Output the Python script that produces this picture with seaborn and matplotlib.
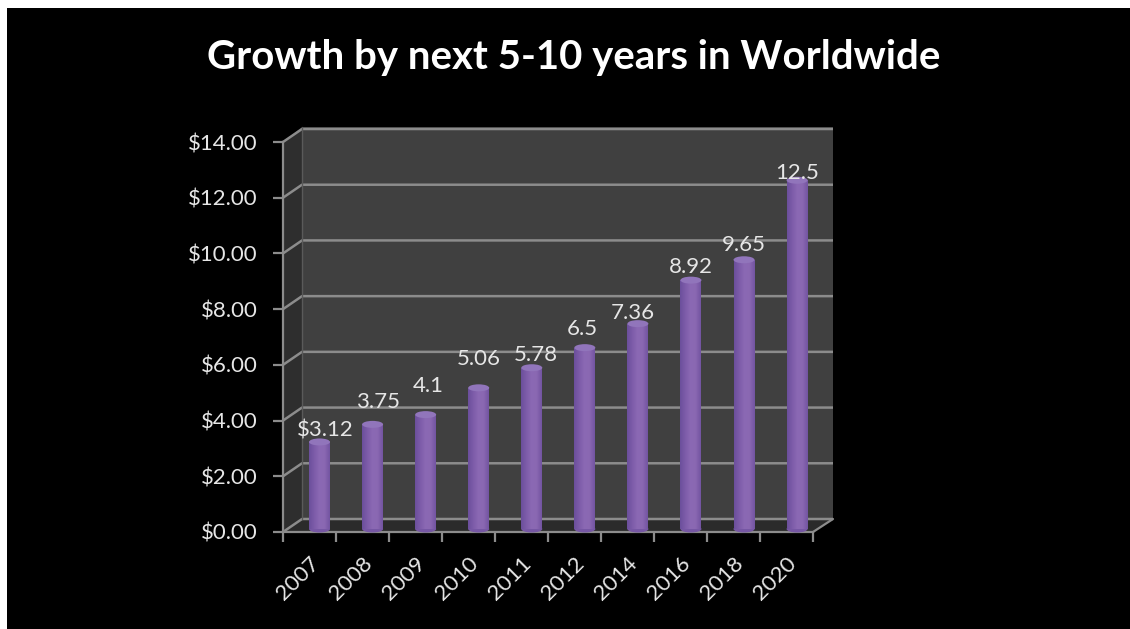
import numpy as np
import pandas as pd
import matplotlib
matplotlib.use("Agg")
import matplotlib.pyplot as plt
from matplotlib.colors import LinearSegmentedColormap
from matplotlib.patches import Ellipse, Polygon, Rectangle
import seaborn as sns

years = ["2007", "2008", "2009", "2010", "2011", "2012", "2014", "2016", "2018", "2020"]
values = [3.12, 3.75, 4.1, 5.06, 5.78, 6.5, 7.36, 8.92, 9.65, 12.5]
value_labels = ["$3.12", "3.75", "4.1", "5.06", "5.78", "6.5", "7.36", "8.92", "9.65", "12.5"]
y_ticks = [0, 2, 4, 6, 8, 10, 12, 14]
y_tick_labels = ["$0.00", "$2.00", "$4.00", "$6.00", "$8.00", "$10.00", "$12.00", "$14.00"]
title = "Growth by next 5-10 years in Worldwide"

# Hand-placed label nudges from each bar top, in pixels
label_dx = [6, 5, 3, 0, 4, -3, -5, 0, 0, 0]
label_dy = [11, 22, 29, 29, 13, 19, 11, 13, 15, 7]

W, H = 1130, 629
GRID = "#8c8c8c"
TEXT = "#e6e6e6"

sns.set_theme(style="dark")
plt.rcParams["font.family"] = ["Lato", "DejaVu Sans"]


def px_axes(fig, left, right, top, bottom, **kw):
    """Axes placed by its pixel edges, measured from the top-left corner."""
    return fig.add_axes([left / W, 1 - bottom / H, (right - left) / W, (bottom - top) / H], **kw)


fig = plt.figure(figsize=(W / 100, H / 100), dpi=100, facecolor="white")

# Full-canvas layer in pixel units for the slide and the 3-D chart box
bg = px_axes(fig, 0, W, 0, H, zorder=0)
bg.set_xlim(0, W)
bg.set_ylim(H, 0)
bg.axis("off")
bg.add_patch(Rectangle((7, 8), W - 7, H - 8, fc="black", ec="none"))

x0, x1 = 283, 813          # front edge of the floor
bx0, bx1 = 302, 833        # back wall
y_front, y_back = 532, 519
y_top_front, y_top_back = 142, 127
bg.add_patch(Polygon([(bx0, y_top_back), (bx1, y_top_back), (bx1, y_back), (bx0, y_back)],
                     fc="#404040", ec="none"))
bg.add_patch(Polygon([(x0, y_top_front), (bx0, y_top_back), (bx0, y_back), (x0, y_front)],
                     fc="#2e2e2e", ec="none"))
bg.add_patch(Polygon([(x0, y_front), (x1, y_front), (bx1, y_back), (bx0, y_back)],
                     fc="#2b2b2b", ec="none"))

# Frame layer: value axis and year axis along the front edge
frame = px_axes(fig, x0, x1, y_top_front, y_front, zorder=1)
frame.patch.set_alpha(0)
frame.set_xlim(-0.5, len(years) - 0.5)
frame.set_ylim(0, 14)
frame.set_yticks(y_ticks, y_tick_labels)
frame.set_xticks(range(len(years)), years, rotation=45, ha="right", rotation_mode="anchor")
frame.set_xticks(np.arange(-0.5, len(years)), minor=True)
frame.tick_params(axis="x", which="major", length=0, pad=15, labelsize=16, labelcolor=TEXT)
frame.tick_params(axis="x", which="minor", length=7, width=1.6, color=GRID, bottom=True)
frame.tick_params(axis="y", length=7, width=1.6, color=GRID, pad=11, labelsize=16,
                  labelcolor=TEXT, left=True)
frame.grid(False)
for side, spine in frame.spines.items():
    spine.set_visible(side in ("left", "bottom"))
    spine.set_color(GRID)
    spine.set_linewidth(1.6)

# Gridlines climb the side wall and run across the back wall
scale = (y_front - y_top_front) / 14
for t in y_ticks:
    yf = y_front - t * scale
    yb = yf - (y_front - y_back)
    bg.plot([x0, bx0, bx1], [yf, yb, yb], color=GRID, lw=1.8, solid_capstyle="butt")
bg.plot([bx0, bx0], [y_top_back, y_back], color="#5a5a5a", lw=1)
bg.plot([x1, bx1], [y_front, y_back], color=GRID, lw=1.6)

# Bars sit a little behind the front edge of the floor
bar_ax = px_axes(fig, 293, 823.6, 529 - 14 * 27.9, 529, zorder=2)
bar_ax.patch.set_alpha(0)
df = pd.DataFrame({"year": years, "value": values})
sns.barplot(data=df, x="year", y="value", color="#8562ae", width=21 / 53.06, saturation=1,
            linewidth=0, edgecolor="none", ax=bar_ax, zorder=2)
bar_ax.axis("off")

# Cylinder shading, caps and value labels
cyl = LinearSegmentedColormap.from_list(
    "cyl", ["#6b4f9c", "#7d5ca9", "#8b69b4", "#8a68b2", "#7354a1"])
shade = np.linspace(0, 1, 64).reshape(1, -1)
cap_h = 7 / 27.9
for i, bar in enumerate(list(bar_ax.patches)):
    x, w, h = bar.get_x(), bar.get_width(), bar.get_height()
    bar_ax.add_patch(Ellipse((x + w / 2, 0), w, cap_h, fc="#7657a4", ec="none", zorder=2,
                             clip_on=False))
    img = bar_ax.imshow(shade, extent=(x, x + w, 0, h), cmap=cyl, aspect="auto", zorder=3)
    img.set_clip_path(bar)
    bar_ax.add_patch(Ellipse((x + w / 2, h), w, cap_h, fc="#9175bb", ec="none", zorder=4,
                             clip_on=False))
    bar_ax.annotate(value_labels[i], (x + w / 2, h),
                    xytext=(label_dx[i] * 0.72, label_dy[i] * 0.72),
                    textcoords="offset points", ha="center", va="center", fontsize=16,
                    color=TEXT, zorder=6, annotation_clip=False)
bar_ax.set_xlim(-0.5, len(years) - 0.5)
bar_ax.set_ylim(0, 14)

fig.text(574 / W, 1 - 57 / H, title, color="white", fontsize=28.9, fontweight="bold",
         ha="center", va="center")

fig.savefig("out.png", dpi=100, facecolor=fig.get_facecolor())
